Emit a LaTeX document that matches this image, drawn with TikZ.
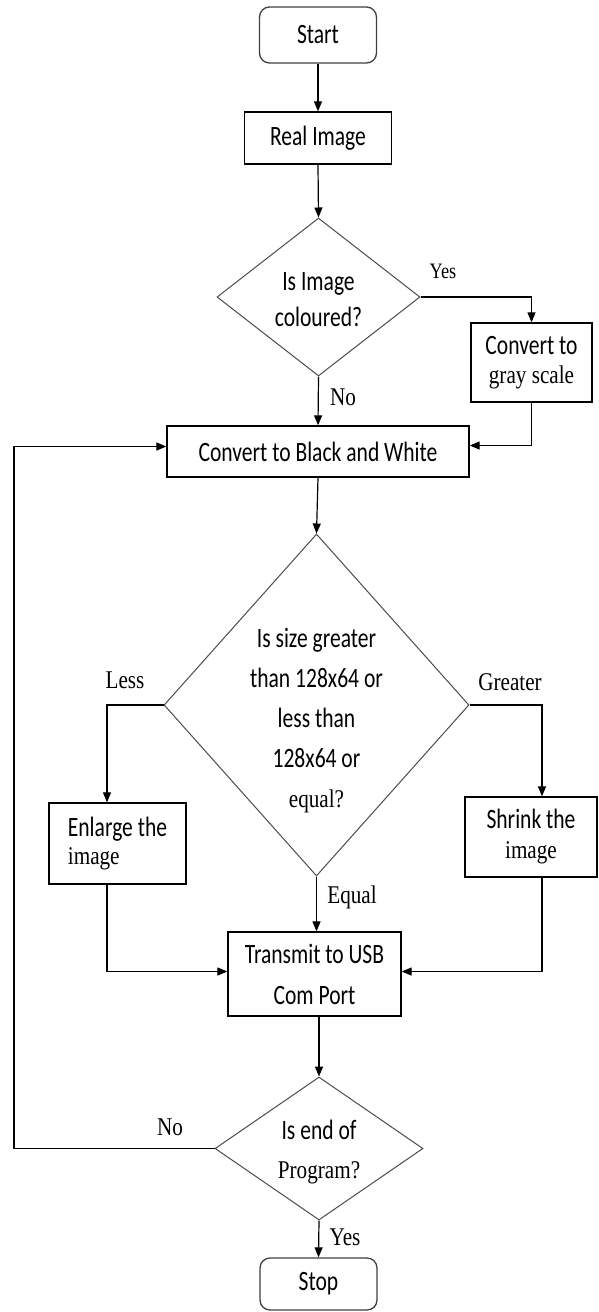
\documentclass[tikz,border=0pt]{standalone}
\usepackage{fontspec}
\usetikzlibrary{shapes.geometric,arrows.meta}
\newfontfamily\calfont[FakeStretch=0.77]{Carlito}
\newfontfamily\timfont[FakeStretch=0.83]{Liberation Serif}
\newcommand\serifpart[1]{{\timfont\fontsize{25.5}{28}\selectfont #1}}
\begin{document}
\begin{tikzpicture}[x=1pt,y=-1pt,
  box/.style={draw=black,line width=1.3pt,rectangle,inner sep=0pt,align=center,font=\calfont\fontsize{28}{30}\selectfont},
  term/.style={box,rounded corners=10pt,draw=black!75},
  dec/.style={draw=black!70,line width=1pt,diamond,inner sep=0pt},
  dtext/.style={align=center,inner sep=0pt,font=\calfont\fontsize{28}{40}\selectfont},
  lbl/.style={font=\timfont\fontsize{25.5}{28}\selectfont,inner sep=0pt},
  arr/.style={line width=1.2pt,-{Triangle[length=10pt,width=8pt]}},
  ln/.style={line width=1.2pt}]
\useasboundingbox (0,0) rectangle (598,1312);
\fill[white] (0,0) rectangle (598,1312);

% nodes
\node[term,minimum width=117pt,minimum height=56pt] (start) at (318,35) {Start};
\node[box,minimum width=147pt,minimum height=52pt] (real) at (318,138) {Real Image};
\node[dec,minimum width=203pt,minimum height=158pt] (d1) at (318.5,297) {};
\node[dtext,font=\calfont\fontsize{28}{36}\selectfont] (d1t) at (318.5,300) {Is Image\\coloured?};
\node[box,minimum width=121pt,minimum height=79pt,font=\calfont\fontsize{28}{29}\selectfont] (gray) at (531.5,362.5) {Convert to\\\serifpart{gray scale}};
\node[box,minimum width=302pt,minimum height=51pt] (cbw) at (318,451.5) {Convert to Black and White};
\node[dec,minimum width=305pt,minimum height=342pt] (d2) at (316.5,705) {};
\node[dtext] (d2t) at (316.5,721) {Is size greater\\than 128x64 or\\less than\\128x64 or\\\serifpart{equal?}};
\node[box,minimum width=137pt,minimum height=81pt,align=left,font=\calfont\fontsize{28}{28}\selectfont] (enl) at (117.5,843.5) {Enlarge the\\\serifpart{image}};
\node[box,minimum width=132pt,minimum height=80pt,font=\calfont\fontsize{28}{30}\selectfont] (shr) at (531,837) {Shrink the\\\serifpart{image}};
\node[box,minimum width=173pt,minimum height=84pt,font=\calfont\fontsize{28}{41}\selectfont] (tx) at (314.5,974) {Transmit to USB\\Com Port};
\node[dec,minimum width=208pt,minimum height=143pt] (d3) at (319,1148.5) {};
\node[dtext,font=\calfont\fontsize{28}{39}\selectfont] (d3t) at (319,1152) {Is end of\\\serifpart{Program?}};
\node[term,minimum width=117pt,minimum height=52pt] (stop) at (318.5,1284) {Stop};

% labels
\node[lbl,font=\timfont\fontsize{22}{24}\selectfont] (lyes1) at (443,271) {Yes};
\node[lbl] (lno1) at (343,397) {No};
\node[lbl] (lless) at (125,680) {Less};
\node[lbl] (lgreat) at (510,682) {Greater};
\node[lbl] (lequal) at (352,897) {Equal};
\node[lbl] (lno2) at (170,1127) {No};
\node[lbl] (lyes2) at (345,1237) {Yes};

\coordinate (lp) at (14,0);

% connectors
\draw[arr] (start.south) -- (real.north);
\draw[arr] (real.south) -- (d1.north);
\draw[arr] (d1.east) -| (gray.north);
\draw[arr] (gray.south) |- ([yshift=6pt]cbw.east);
\draw[arr] (d1.south) -- (cbw.north);
\draw[arr] (cbw.south) -- (d2.north);
\draw[arr] (d2.west) -| ([xshift=-10.5pt]enl.north);
\draw[arr] (d2.east) -| ([xshift=11pt]shr.north);
\draw[arr] (d2.south) -- (d2.south |- tx.north);
\draw[arr] ([xshift=-10.5pt]enl.south) |- ([yshift=2.5pt]tx.west);
\draw[arr] ([xshift=11pt]shr.south) |- ([yshift=2.5pt]tx.east);
\draw[arr] (tx.south -| d3.north) -- (d3.north);
\draw[arr] (d3.west) -- (d3.west -| lp) |- ([yshift=5pt]cbw.west);
\draw[arr] (d3.south) -- (stop.north);
\end{tikzpicture}
\end{document}
